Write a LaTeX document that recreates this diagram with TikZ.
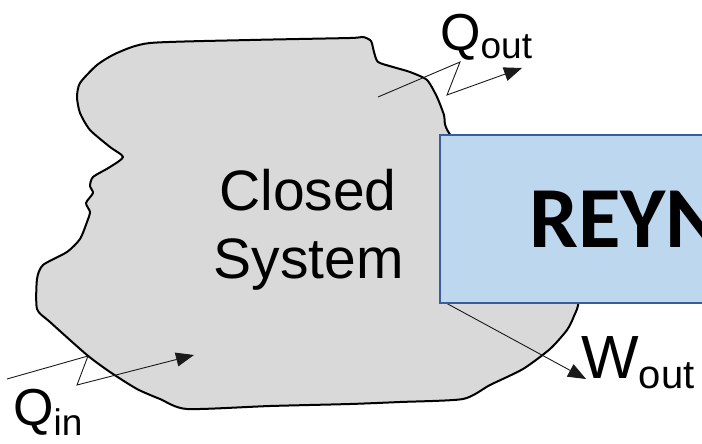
\documentclass[tikz,border=0pt]{standalone}
\usepackage{fontspec}
\setmainfont{Liberation Sans}
\newfontfamily\titlefont{Carlito}
\usetikzlibrary{arrows.meta}
\definecolor{blobgray}{HTML}{D9D9D9}
\definecolor{boxfill}{HTML}{BDD7EE}
\definecolor{boxline}{HTML}{3A5E9C}
\definecolor{arrowink}{HTML}{1A1A1A}
\tikzset{
  outline/.style={draw=black, line width=2pt, fill=blobgray, line join=round},
  flow/.style={draw=arrowink, line width=0.9pt, line join=miter,
    -{Triangle[length=18pt, width=14pt]}},
  label/.style={inner sep=0pt, anchor=base west, text=black},
  bigtext/.style={inner sep=0pt, anchor=base, font=\fontsize{57}{57}\selectfont},
  titlebox/.style={draw=boxline, fill=boxfill, line width=1.8pt}
}
\begin{document}
\begin{tikzpicture}[x=1pt, y=-1pt]
  \useasboundingbox (0,0) rectangle (702,444);
  \clip (0,0) rectangle (702,444);

  % outline of the closed system
  \path[outline] plot[smooth cycle, tension=0.4] coordinates {
    (150,43) (250,40) (350,38) (363,37) (371,41) (374,52) (378,62)
    (393,67) (410,72) (427,80) (437,97) (444,115) (449,133)
    (500,200) (560,260) (578,300) (574,316) (567,330) (550,349)
    (523,369) (490,385) (463,399) (400,402) (350,404) (270,406)
    (187,409)
    (160,399) (137,389) (110,372) (87,355) (50,322) (37,309)
    (37,279) (43,265) (67,252) (80,239) (87,222) (90,212) (86,203)
    (93,193) (90,186) (93,177) (110,167) (123,157) (110,147)
    (90,130) (80,113) (77,97) (80,83) (97,65) (117,53)};

  % heat and work connectors
  \coordinate (qoS) at (378,97);
  \coordinate (qoA) at (460,62);
  \coordinate (qoB) at (447,95);
  \coordinate (qoE) at (522,68);
  \draw[flow] (qoS) -- (qoA) -- (qoB) -- (qoE);

  \coordinate (qiS) at (7,379);
  \coordinate (qiA) at (88,356);
  \coordinate (qiB) at (77,385);
  \coordinate (qiE) at (194,355);
  \draw[flow] (qiS) -- (qiA) -- (qiB) -- (qiE);

  \coordinate (woS) at (446,303);
  \coordinate (woE) at (586,379);
  \draw[flow] (woS) -- (woE);

  % labels
  \node[bigtext] (closed) at (308,210) {Closed};
  \node[bigtext] (system) at (308.5,278) {System};

  \node[label] (qout) at (440,51)
    {\fontsize{52}{52}\selectfont Q\raisebox{-8pt}{\fontsize{37}{37}\selectfont out}};
  \node[label] (qin) at (13,425)
    {\fontsize{52}{52}\selectfont Q\raisebox{-10pt}{\fontsize{37}{37}\selectfont in}};
  \node[label] (wout) at (581,378)
    {\fontsize{61}{61}\selectfont W\raisebox{-10pt}{\fontsize{40}{40}\selectfont out}};

  % title banner
  \node[titlebox, minimum width=300pt, minimum height=168pt, anchor=north west,
        inner sep=0pt] (banner) at (439,134) {};
  \node[inner sep=0pt, anchor=base west, font=\titlefont\bfseries\fontsize{87}{87}\selectfont]
    (title) at (529,247) {REYN};
\end{tikzpicture}
\end{document}
